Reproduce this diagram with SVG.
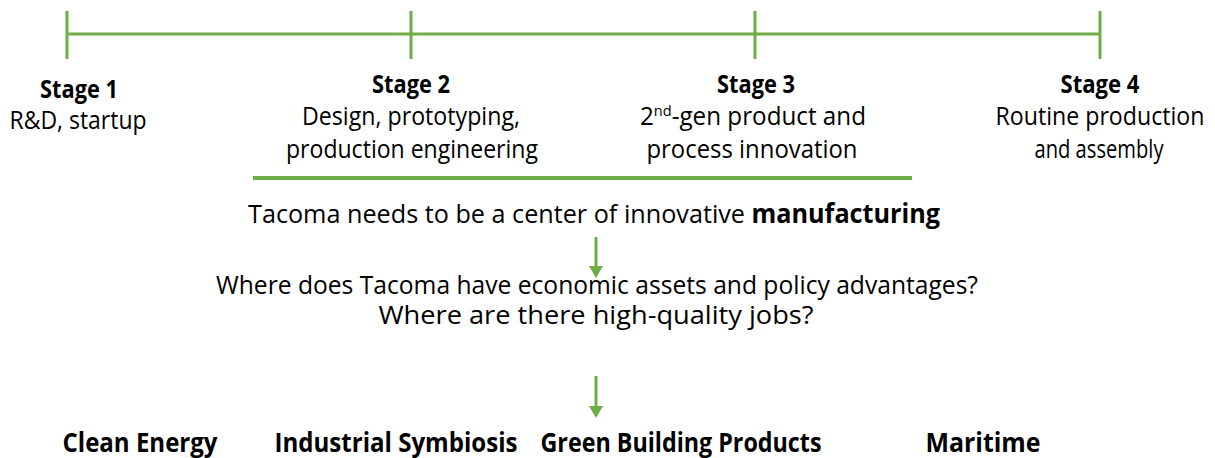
<svg xmlns="http://www.w3.org/2000/svg" width="1215" height="458" viewBox="0 0 1215 458">
<style>
text{font-family:"Open Sans","Liberation Sans",sans-serif;fill:#000;text-anchor:middle;font-size:25px}
.b{font-weight:bold}
.big{font-size:26px}
.g{stroke:#70AD47;fill:none}
</style>
<defs>
<marker id="ah" markerWidth="12" markerHeight="14" refX="0" refY="7" orient="auto" markerUnits="userSpaceOnUse" viewBox="0 0 12 14">
<path d="M0,0 L12,7 L0,14 Z" fill="#70AD47"/>
</marker>
</defs>
<g id="connectors">
<line class="g" x1="67" y1="34" x2="1100" y2="34" stroke-width="3"/>
<line class="g" x1="67" y1="11" x2="67" y2="59" stroke-width="3"/>
<line class="g" x1="411" y1="11" x2="411" y2="59" stroke-width="3"/>
<line class="g" x1="755" y1="11" x2="755" y2="59" stroke-width="3"/>
<line class="g" x1="1100" y1="11" x2="1100" y2="59" stroke-width="3"/>
<line class="g" x1="253" y1="178" x2="912" y2="178" stroke-width="4"/>
<line class="g" x1="596" y1="237" x2="596" y2="266" stroke-width="3" marker-end="url(#ah)"/>
<line class="g" x1="596" y1="376" x2="596" y2="406" stroke-width="3" marker-end="url(#ah)"/>
</g>
<g id="stage1">
<text x="79" y="98" class="b" textLength="78" lengthAdjust="spacingAndGlyphs">Stage 1</text>
<text x="78" y="129" textLength="137" lengthAdjust="spacingAndGlyphs">R&amp;D, startup</text>
</g>
<g id="stage2">
<text x="411" y="93" class="b" textLength="78" lengthAdjust="spacingAndGlyphs">Stage 2</text>
<text x="411" y="125" textLength="218" lengthAdjust="spacingAndGlyphs">Design, prototyping,</text>
<text x="412" y="158" textLength="252" lengthAdjust="spacingAndGlyphs">production engineering</text>
</g>
<g id="stage3">
<text x="756" y="93" class="b" textLength="78" lengthAdjust="spacingAndGlyphs">Stage 3</text>
<text x="753" y="125" textLength="226" lengthAdjust="spacingAndGlyphs">2<tspan font-size="15" dy="-9">nd</tspan><tspan dy="9">-gen product and</tspan></text>
<text x="752" y="158" textLength="211" lengthAdjust="spacingAndGlyphs">process innovation</text>
</g>
<g id="stage4">
<text x="1100" y="93" class="b" textLength="79" lengthAdjust="spacingAndGlyphs">Stage 4</text>
<text x="1100" y="125" textLength="209" lengthAdjust="spacingAndGlyphs">Routine production</text>
<text x="1099" y="158" textLength="129" lengthAdjust="spacingAndGlyphs">and assembly</text>
</g>
<g id="statement">
<text x="594" y="223" class="big" textLength="692" lengthAdjust="spacingAndGlyphs">Tacoma needs to be a center of innovative <tspan class="b">manufacturing</tspan></text>
</g>
<g id="question">
<text x="597" y="294" class="big" textLength="762" lengthAdjust="spacingAndGlyphs">Where does Tacoma have economic assets and policy advantages?</text>
<text x="596" y="324" class="big" textLength="435" lengthAdjust="spacingAndGlyphs">Where are there high-quality jobs?</text>
</g>
<g id="clean-energy"><text x="140" y="452" class="b big" textLength="155" lengthAdjust="spacingAndGlyphs">Clean Energy</text></g>
<g id="industrial-symbiosis"><text x="396" y="452" class="b big" textLength="243" lengthAdjust="spacingAndGlyphs">Industrial Symbiosis</text></g>
<g id="green-building"><text x="681" y="452" class="b big" textLength="281" lengthAdjust="spacingAndGlyphs">Green Building Products</text></g>
<g id="maritime"><text x="983" y="452" class="b big" textLength="115" lengthAdjust="spacingAndGlyphs">Maritime</text></g>
</svg>
